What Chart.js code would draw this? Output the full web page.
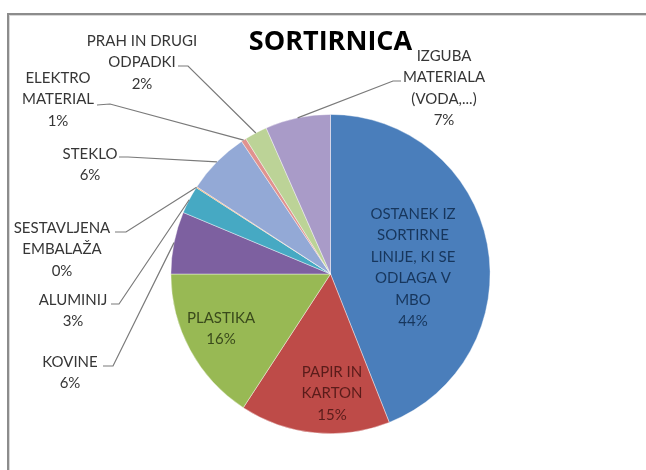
<!DOCTYPE html>
<html>
<head>
<meta charset="utf-8">
<script src="https://cdn.jsdelivr.net/npm/chart.js@4/dist/chart.umd.min.js"></script>
<style>
  html, body { margin: 0; padding: 0; background: #fff; }
  #wrap { position: relative; width: 646px; height: 470px; overflow: hidden; }
  #frame { position: absolute; left: 7px; top: 13px; width: 700px; height: 520px;
           border-top: 2px solid #8c8c8c; border-left: 2px solid #8c8c8c;
           box-shadow: inset 1px 1px 0 #d8d8d8; }
  canvas { position: absolute; left: 0; top: 0; }
</style>
</head>
<body>
<div id="wrap">
  <div id="frame"></div>
  <canvas id="pie" width="646" height="470"></canvas>
</div>
<script>
// podatki (deleži v %, odčitani s slike)
const categories = [
  'OSTANEK IZ\nSORTIRNE\nLINIJE, KI SE\nODLAGA V\nMBO',
  'PAPIR IN\nKARTON',
  'PLASTIKA',
  'KOVINE',
  'ALUMINIJ',
  'SESTAVLJENA\nEMBALAŽA',
  'STEKLO',
  'ELEKTRO\nMATERIAL',
  'PRAH IN DRUGI\nODPADKI',
  'IZGUBA\nMATERIALA\n(VODA,...)'
];
const shares = [44, 15.2, 15.8, 6.3, 2.8, 0.1, 6.4, 0.5, 2.3, 6.6];
const percentLabels = ['44%', '15%', '16%', '6%', '3%', '0%', '6%', '1%', '2%', '7%'];

const sliceColors = ['#4a7ebb', '#be4b48', '#98b954', '#7d60a0', '#46a9c3', '#f79646',
                     '#93a9d6', '#e0928f', '#bcd397', '#a99bc8'];
const inkColors = ['#17365c', '#5a1c1a', '#3a4a1c', '#363636', '#363636', '#363636',
                   '#363636', '#363636', '#363636', '#363636'];

// kje stojijo napisi (from = začetek povezovalne črte ob napisu)
const labelLayout = [
  { x: 413, y: 214 },
  { x: 332, y: 372 },
  { x: 221, y: 318 },
  { x: 70,  y: 362, from: [103, 366], elbow: [113, 366] },
  { x: 73,  y: 300, from: [111, 304], elbow: [119, 304] },
  { x: 62,  y: 228, from: [115, 232], elbow: [126, 232] },
  { x: 90,  y: 154, from: [119, 157], elbow: [128, 157] },
  { x: 58,  y: 78,  from: [97, 105],  elbow: [110, 104] },
  { x: 142, y: 41,  from: [178, 66],  elbow: [188, 66] },
  { x: 444, y: 56,  from: [401, 81],  elbow: [393, 81] }
];
const lineGap = 21.5;

const sliceLabels = {
  id: 'sliceLabels',
  afterDatasetsDraw(chart) {
    const ctx = chart.ctx;
    const arcs = chart.getDatasetMeta(0).data;
    ctx.save();
    ctx.font = '15px Lato';
    ctx.textAlign = 'center';
    ctx.textBaseline = 'middle';
    arcs.forEach((arc, i) => {
      const pos = labelLayout[i];
      if (pos.from) {
        const mid = (arc.startAngle + arc.endAngle) / 2;
        const ex = arc.x + Math.cos(mid) * arc.outerRadius;
        const ey = arc.y + Math.sin(mid) * arc.outerRadius;
        ctx.strokeStyle = '#7a7a7a';
        ctx.lineWidth = 1.2;
        ctx.beginPath();
        ctx.moveTo(pos.from[0], pos.from[1]);
        ctx.lineTo(pos.elbow[0], pos.elbow[1]);
        ctx.lineTo(ex, ey);
        ctx.stroke();
      }
      const lines = categories[i].split('\n').concat(percentLabels[i]);
      ctx.fillStyle = inkColors[i];
      lines.forEach((t, k) => ctx.fillText(t, pos.x, pos.y + k * lineGap));
    });
    ctx.restore();
  }
};

new Chart(document.getElementById('pie'), {
  type: 'pie',
  data: {
    labels: categories,
    datasets: [{
      data: shares,
      backgroundColor: sliceColors,
      borderColor: 'rgba(255,255,255,0.5)',
      borderWidth: 0.8
    }]
  },
  options: {
    responsive: false,
    animation: false,
    layout: { padding: { left: 170.5, right: 155.5, top: 0, bottom: 36 } },
    plugins: {
      legend: { display: false },
      tooltip: { enabled: false },
      title: {
        display: true,
        fullSize: false,
        text: 'SORTIRNICA',
        color: '#000',
        font: { family: 'Open Sans', size: 27, weight: 'bold', lineHeight: 1.2 },
        padding: { top: 26, bottom: 55.6 }
      }
    }
  },
  plugins: [sliceLabels]
});
</script>
</body>
</html>
